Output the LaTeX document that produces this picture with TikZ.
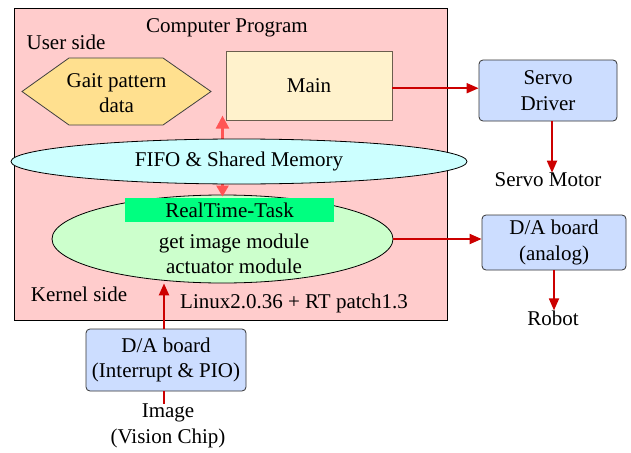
\documentclass[tikz,border=0pt]{standalone}
\usepackage{fontspec}
\setmainfont{Liberation Serif}
\usetikzlibrary{shapes.geometric,arrows.meta}
\definecolor{pinkbg}{HTML}{FFCCCC}
\definecolor{mainfill}{HTML}{FFF2CC}
\definecolor{maindraw}{HTML}{6B5E4E}
\definecolor{gaitfill}{HTML}{FFE08F}
\definecolor{fifofill}{HTML}{CCFFFF}
\definecolor{rtfill}{HTML}{CCFFCC}
\definecolor{rtbar}{HTML}{00FF80}
\definecolor{boardfill}{HTML}{CCDDFF}
\definecolor{darkred}{HTML}{CC0000}
\definecolor{softred}{HTML}{FF5555}
\begin{document}
\begin{tikzpicture}[x=1pt,y=-1pt,
  every node/.style={font=\fontsize{21}{25.5}\selectfont, inner sep=0pt, align=center},
  board/.style={draw=black!80, fill=boardfill, rounded corners=4pt, line width=0.8pt},
  blob/.style={ellipse, draw=black, line width=0.8pt},
  hardarrow/.style={draw=darkred, line width=1.8pt, -{Triangle[length=12pt,width=10pt]}},
  hardline/.style={draw=darkred, line width=2.2pt},
  softarrow/.style={draw=softred, line width=2.5pt,
    {Triangle[length=11pt,width=12pt]}-{Triangle[length=13pt,width=13pt]}}]
\useasboundingbox (0,0) rectangle (631,452);
\fill[white] (0,0) rectangle (631,452);

% program frame
\node[draw=black, fill=pinkbg, minimum width=433, minimum height=312, line width=0.8pt] (prog) at (230.5,164) {};
\node (title) at (227,28) {Computer Program};
\node (user) at (66,42) {User side};
\node (kernel) at (79,294) {Kernel side};
\node (linux) at (294,303) {Linux2.0.36 + RT patch1.3};

% user side
\node[draw=maindraw, fill=mainfill, minimum width=166, minimum height=69, line width=0.8pt] (main) at (309,85.7) {Main};
\filldraw[fill=gaitfill, draw=black!75, line width=0.8pt]
  (22,91.5) -- (69,58) -- (163,58) -- (211,91.5) -- (163,125) -- (69,125) -- cycle;
\node (gait) at (116.5,93) {Gait pattern\\data};

% kernel side
\node[blob, fill=rtfill, minimum width=341, minimum height=88] (rt) at (222.5,239) {};
\node[fill=rtbar, minimum width=209, minimum height=24] (rtbar) at (229.5,210) {RealTime-Task};
\node (mods) at (234,254) {get image module\\actuator module};

\draw[softarrow] ([yshift=-2pt]rt.north) -- ([yshift=5pt]rt.north |- main.south);

\node[blob, fill=fifofill, minimum width=456, minimum height=45] (fifo) at (239,161.5) {FIFO \& Shared Memory};

% hardware
\node[board, minimum width=138, minimum height=61] (servo) at (548,90.5) {Servo\\Driver};
\node (motor) at (548,180) {Servo Motor};
\node[board, minimum width=144, minimum height=55] (da) at (554,242.5) {D/A board\\(analog)};
\node (robot) at (553,318) {Robot};
\node[board, minimum width=160, minimum height=62] (pio) at (166,360) {D/A board\\(Interrupt \& PIO)};
\node (img) at (168,426) {Image\\(Vision Chip)};

% connectors
\draw[hardarrow] ([yshift=-2.5pt]main.east) -- ([yshift=-2.5pt]main.east -| servo.west);
\draw[hardarrow] ([xshift=4pt]servo.south) -- ([xshift=4pt]servo.south |- motor.north);
\draw[hardarrow] (rt.east) -- (rt.east -| da.west);
\draw[hardarrow] (da.south) -- (da.south |- robot.north);
\draw[hardarrow, line width=2.4pt] ([xshift=-2pt]pio.north) -- ([xshift=-2pt]pio.north |- rt.south);
\draw[hardline] ([xshift=-2pt]pio.south) -- ([xshift=-2pt]pio.south |- img.north);
\end{tikzpicture}
\end{document}
